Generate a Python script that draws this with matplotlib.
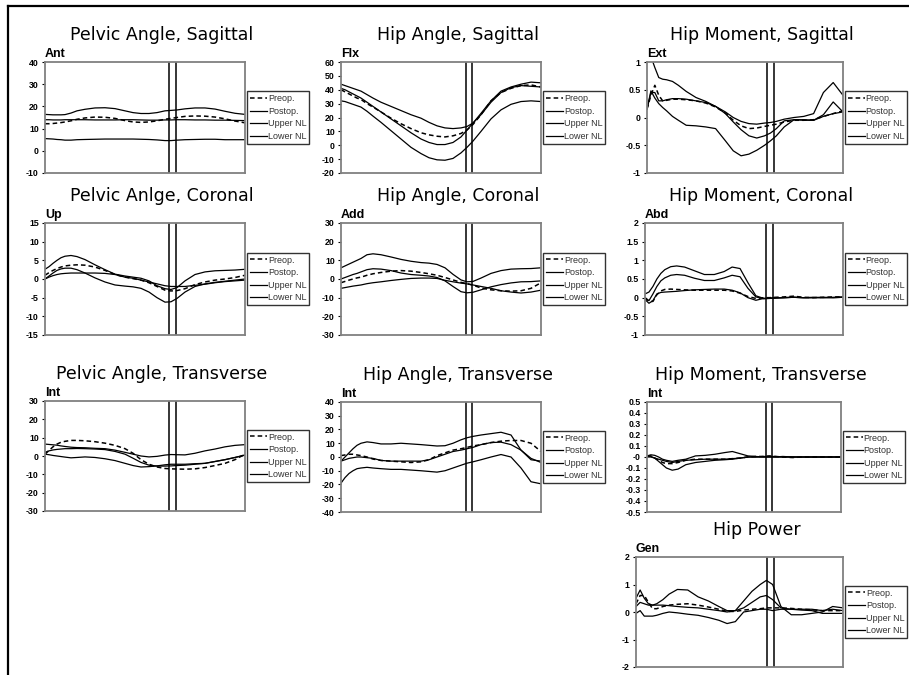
import matplotlib.pyplot as plt
import numpy as np
from matplotlib.lines import Line2D
from matplotlib.ticker import FuncFormatter

plt.rcParams['font.family'] = ['Liberation Sans', 'DejaVu Sans']

# % of gait cycle
gait = [0, 2, 4, 6, 8, 10, 13, 16, 20, 25, 30, 35, 40, 44, 48, 52, 56, 60, 63, 66, 70, 75, 80, 85, 90, 95, 100]

# Pelvic Angle, Sagittal
pel_sag_pre = [12.2, 12.2, 12.3, 12.5, 12.7, 13.0, 13.5, 14.2, 14.8, 15.2, 15.1, 14.6, 13.6, 13.0, 12.8, 13.0, 13.5, 14.2, 14.6, 15.0, 15.5, 15.7, 15.6, 15.2, 14.4, 13.4, 12.6]
pel_sag_post = [14.0, 14.0, 13.9, 13.9, 13.9, 14.0, 14.0, 14.0, 14.0, 13.9, 13.9, 13.9, 14.0, 14.0, 13.9, 13.8, 13.8, 13.9, 13.9, 14.0, 14.0, 13.9, 13.9, 13.8, 13.8, 13.7, 13.6]
pel_sag_up = [16.4, 16.3, 16.2, 16.2, 16.2, 16.3, 17.0, 18.0, 18.7, 19.3, 19.4, 19.0, 18.0, 17.2, 16.8, 16.8, 17.2, 18.0, 18.2, 18.4, 18.9, 19.3, 19.3, 18.8, 17.8, 16.9, 16.4]
pel_sag_lo = [5.5, 5.4, 5.3, 5.1, 5.0, 4.8, 4.8, 5.0, 5.1, 5.2, 5.3, 5.3, 5.3, 5.3, 5.2, 5.1, 4.9, 4.6, 4.6, 4.8, 5.0, 5.1, 5.2, 5.2, 5.0, 5.0, 5.0]

# Hip Angle, Sagittal
hip_sag_pre = [40, 38.5, 37, 35.5, 34, 33, 30, 27.5, 24, 19.5, 15.5, 12, 9, 7.5, 6.5, 6, 6.8, 8.5, 11, 15, 22, 32, 38, 41, 43, 43.5, 42]
hip_sag_post = [41, 40, 38.5, 37, 35.5, 34, 31, 28, 24, 19, 14, 9, 4.5, 2, 0.5, 0.5, 2, 6, 11, 16, 23, 32, 39, 42, 44, 45.5, 45]
hip_sag_up = [44, 43, 42, 41, 40, 39, 36.5, 34, 31, 28, 25, 22, 19.5, 16.5, 14, 12.5, 12, 12.5, 13.5, 16, 22, 31, 38, 41.5, 43, 42.5, 42]
hip_sag_lo = [32, 31.5, 30.5, 29.5, 28.5, 27.5, 24.5, 21, 16.5, 10.5, 4.5, -1.5, -6, -9, -10.5, -10.8, -9.5, -5.5, -1.5, 3, 10, 19, 25.5, 29.5, 31.5, 32, 31.5]

# Hip Moment, Sagittal
mom_sag_pre = [0.15, 0.4, 0.58, 0.4, 0.3, 0.31, 0.33, 0.33, 0.32, 0.3, 0.26, 0.19, 0.08, -0.05, -0.15, -0.2, -0.19, -0.16, -0.14, -0.12, -0.08, -0.05, -0.05, -0.04, 0.02, 0.07, 0.12]
mom_sag_post = [0.15, 0.45, 0.45, 0.3, 0.3, 0.32, 0.34, 0.34, 0.33, 0.3, 0.27, 0.2, 0.07, -0.08, -0.22, -0.33, -0.37, -0.33, -0.28, -0.2, -0.06, -0.04, -0.05, -0.05, 0.05, 0.28, 0.1]
mom_sag_up = [1.2, 1.1, 0.9, 0.72, 0.69, 0.68, 0.65, 0.58, 0.47, 0.36, 0.29, 0.2, 0.1, 0.0, -0.07, -0.11, -0.12, -0.1, -0.09, -0.07, -0.03, 0.0, 0.02, 0.07, 0.45, 0.63, 0.4]
mom_sag_lo = [0.15, 0.48, 0.35, 0.25, 0.18, 0.12, 0.02, -0.05, -0.14, -0.15, -0.17, -0.2, -0.42, -0.6, -0.69, -0.66, -0.59, -0.5, -0.42, -0.33, -0.17, -0.04, -0.04, -0.05, 0.02, 0.07, 0.1]

# Pelvic Anlge, Coronal
pel_cor_pre = [1.0, 1.7, 2.3, 2.8, 3.2, 3.5, 3.7, 3.8, 3.7, 3.2, 2.3, 1.2, 0.5, 0.1, -0.3, -1.0, -2.0, -3.0, -3.2, -3.1, -2.6, -1.5, -0.8, -0.3, 0.0, 0.4, 1.0]
pel_cor_post = [0.0, 0.8, 1.6, 2.3, 2.7, 2.9, 2.9, 2.5, 1.6, 0.3, -0.8, -1.6, -1.9, -2.1, -2.5, -3.5, -5.0, -6.2, -6.1, -5.2, -3.5, -2.0, -1.3, -0.9, -0.6, -0.3, 0.0]
pel_cor_up = [2.6, 3.3, 4.2, 5.0, 5.7, 6.1, 6.3, 6.0, 5.2, 3.8, 2.5, 1.3, 0.8, 0.5, 0.2, -0.5, -1.8, -2.6, -2.8, -2.3, -0.5, 1.2, 1.9, 2.2, 2.3, 2.4, 2.6]
pel_cor_lo = [0.0, 0.5, 0.9, 1.2, 1.4, 1.5, 1.6, 1.6, 1.6, 1.6, 1.5, 1.2, 0.5, 0.2, -0.3, -0.8, -1.3, -1.8, -2.0, -2.0, -2.0, -1.7, -1.4, -1.0, -0.7, -0.5, -0.3]

# Hip Angle, Coronal
hip_cor_pre = [-2, -1.3, -0.6, 0, 0.6, 1, 2, 2.8, 3.5, 4.2, 4.5, 4.2, 3.5, 2.8, 2, 0.8, -0.5, -1.8, -2.5, -3.3, -4.8, -5.8, -6.3, -6.5, -6.3, -5, -2]
hip_cor_post = [0, 0.8, 1.6, 2.4, 3.0, 3.8, 5, 5.5, 5.3, 4.5, 3.2, 2.4, 2.0, 1.6, 0.8, -1, -4, -6.8, -7.4, -7.1, -5.8, -4.2, -3, -2.1, -1.5, -1.4, -1]
hip_cor_up = [6, 7, 8, 9, 10, 11, 13, 13.5, 13, 11.8, 10.5, 9.5, 8.8, 8.5, 7.8, 6, 2.5, -0.5, -1.5, -1.3, 0.5, 3, 4.5, 5.3, 5.5, 5.6, 6]
hip_cor_lo = [-5, -4.6, -4.2, -3.8, -3.5, -3.2, -2.5, -2, -1.5, -0.8, -0.2, 0.3, 0.5, 0.5, 0.3, -0.7, -1.5, -2.2, -2.6, -3.2, -4, -5, -6.3, -7, -7.5, -7, -6]

# Hip Moment, Coronal
mom_cor_pre = [0, -0.1, -0.1, 0.08, 0.18, 0.22, 0.23, 0.22, 0.21, 0.2, 0.2, 0.2, 0.2, 0.18, 0.12, 0.03, -0.02, 0, 0, 0.01, 0.02, 0.04, 0.01, 0, 0.01, 0.02, 0.02]
mom_cor_post = [0.0, -0.08, 0.1, 0.3, 0.45, 0.53, 0.6, 0.62, 0.6, 0.52, 0.46, 0.46, 0.53, 0.6, 0.56, 0.25, 0.02, -0.03, -0.02, -0.01, 0, 0.01, 0, 0.01, 0, 0, 0.01]
mom_cor_up = [0.1, 0.15, 0.3, 0.5, 0.65, 0.75, 0.83, 0.85, 0.82, 0.72, 0.62, 0.62, 0.7, 0.82, 0.78, 0.4, 0.05, -0.02, -0.02, -0.01, 0, 0.01, 0, 0, 0.01, 0, 0.01]
mom_cor_lo = [-0.05, -0.15, -0.08, 0.1, 0.14, 0.15, 0.16, 0.17, 0.19, 0.21, 0.22, 0.23, 0.23, 0.2, 0.13, 0.0, -0.07, -0.02, -0.01, 0, 0, 0.01, 0, 0, 0, 0.01, 0.02]

# Pelvic Angle, Transverse
pel_tr_pre = [1, 3, 5, 6.5, 7.5, 8, 8.5, 8.5, 8.3, 7.8, 7.0, 5.8, 4.0, 1.5, -2.0, -4.5, -6.0, -6.8, -7.0, -7.1, -7.2, -7.0, -6.3, -5.2, -4.0, -2, 1]
pel_tr_post = [2, 2.8, 3.3, 3.6, 3.8, 4, 4, 4.1, 4, 3.8, 3.5, 2.5, 1, -1.2, -3.5, -5, -5.5, -5.5, -5.4, -5.2, -5, -4.5, -4, -3, -2, -0.8, 0.5]
pel_tr_up = [6.5, 6.3, 6.1, 5.9, 5.5, 5.2, 4.8, 4.6, 4.5, 4.2, 4.0, 3.2, 2.0, 1.0, 0.0, -0.5, -0.2, 0.5, 0.8, 0.7, 0.6, 1.5, 2.8, 3.8, 5.0, 5.8, 6.2]
pel_tr_lo = [1, 0.7, 0.3, 0, -0.3, -0.6, -1, -0.8, -0.5, -0.8, -1.5, -2.5, -4, -5.2, -6, -5.8, -5.4, -4.8, -4.5, -4.5, -4.5, -4.2, -4, -3, -2, -0.8, 0.5]

# Hip Angle, Transverse
hip_tr_pre = [1, 1.5, 2, 2, 1.5, 1, 0, -1.5, -2.5, -3, -3.5, -4, -3.5, -2, 1, 3, 5, 6, 7, 8, 9, 10.5, 11.5, 12, 12, 10, 4]
hip_tr_post = [-3, -2, -1, -0.5, 0, 0, -0.5, -1, -2.5, -3, -3, -3, -3, -2, 0, 2, 4, 5, 6, 7, 9, 10.5, 10.8, 9, 5, -1, -4]
hip_tr_up = [-3, 0, 3, 6, 8.5, 10, 11, 10.5, 9.5, 9.5, 10, 9.5, 9, 8.5, 8, 8.2, 10, 12.5, 14, 15, 16, 17, 18, 16, 5, -2, -3]
hip_tr_lo = [-19, -15, -12, -10, -8.5, -8, -7.5, -8, -8.5, -9, -9, -9.5, -10, -10.5, -11, -10, -8, -6, -4.5, -3.5, -2, 0, 1.8, 0, -8, -18, -19.5]

# Hip Moment, Transverse
mom_tr_pre = [0.01, 0.01, -0.01, -0.03, -0.05, -0.06, -0.06, -0.05, -0.03, -0.02, -0.02, -0.02, -0.02, -0.015, -0.01, 0, 0.005, 0.005, 0.01, 0.005, 0, -0.005, 0, 0, 0, 0, 0]
mom_tr_post = [0, 0, -0.01, -0.02, -0.03, -0.04, -0.05, -0.04, -0.03, -0.025, -0.02, -0.02, -0.02, -0.015, -0.01, 0, 0, 0.005, 0.005, 0.005, 0, 0, 0, 0, 0, 0, 0]
mom_tr_up = [0.01, 0.02, 0.015, 0, -0.02, -0.03, -0.04, -0.03, -0.02, 0.01, 0.015, 0.025, 0.04, 0.05, 0.03, 0.01, 0.005, 0, 0, 0, 0.005, 0, 0, 0, 0, 0, 0]
mom_tr_lo = [0.01, 0.005, -0.01, -0.04, -0.07, -0.1, -0.12, -0.11, -0.07, -0.05, -0.04, -0.03, -0.025, -0.02, -0.01, 0, 0, 0, 0, 0, 0, 0, 0, 0, 0, 0, 0]

# Hip Power
pow_pre = [0.3, 0.6, 0.6, 0.35, 0.12, 0.12, 0.2, 0.25, 0.28, 0.3, 0.25, 0.18, 0.1, 0.02, 0.02, 0.07, 0.1, 0.12, 0.15, 0.15, 0.15, 0.13, 0.1, 0.08, 0.05, 0.05, 0.05]
pow_post = [0.2, 0.35, 0.3, 0.25, 0.25, 0.25, 0.25, 0.23, 0.2, 0.17, 0.15, 0.1, 0.05, 0.0, 0.05, 0.15, 0.35, 0.55, 0.6, 0.45, 0.15, 0.1, 0.1, 0.1, 0.05, 0.1, 0.05]
pow_up = [0.5, 0.8, 0.5, 0.3, 0.25, 0.3, 0.45, 0.65, 0.82, 0.8, 0.55, 0.4, 0.2, 0.05, 0.05, 0.4, 0.75, 1.0, 1.15, 1.0, 0.2, -0.1, -0.1, -0.05, 0.0, 0.2, 0.15]
pow_lo = [-0.05, 0.05, -0.15, -0.15, -0.15, -0.12, -0.05, 0.0, -0.03, -0.08, -0.12, -0.2, -0.3, -0.42, -0.35, 0.0, 0.05, 0.1, 0.1, 0.05, 0.1, 0.1, 0.07, 0.05, -0.05, -0.05, -0.05]

# toe-off (% gait), preop / postop
toe_pelvis = [62.2, 65.3]
toe_hip = [62.5, 65.7]
toe_moment = [61.2, 64.6]
toe_power = [63.3, 66.5]

W, H = 909, 675
fig = plt.figure(figsize=(W / 100, H / 100), dpi=100)

# outer frame (top and left edges only, rest is cut off)
fig.add_artist(Line2D([8 / W, 8 / W], [0, 1 - 6 / H], color='black', lw=1.6))
fig.add_artist(Line2D([8 / W, 1], [1 - 6 / H, 1 - 6 / H], color='black', lw=1.6))

# title, unit, ylim, step, toe-off, pre, post, upper, lower, box px (left, top, right, bottom)
panels = [
    ('Pelvic Angle, Sagittal', 'Ant', (-10, 40), 10, toe_pelvis,
     pel_sag_pre, pel_sag_post, pel_sag_up, pel_sag_lo, (45, 62, 245, 173)),
    ('Hip Angle, Sagittal', 'Flx', (-20, 60), 10, toe_hip,
     hip_sag_pre, hip_sag_post, hip_sag_up, hip_sag_lo, (341, 62, 541, 173)),
    ('Hip Moment, Sagittal', 'Ext', (-1, 1), 0.5, toe_moment,
     mom_sag_pre, mom_sag_post, mom_sag_up, mom_sag_lo, (647, 62, 843, 173)),
    ('Pelvic Anlge, Coronal', 'Up', (-15, 15), 5, toe_pelvis,
     pel_cor_pre, pel_cor_post, pel_cor_up, pel_cor_lo, (45, 223, 245, 335)),
    ('Hip Angle, Coronal', 'Add', (-30, 30), 10, toe_hip,
     hip_cor_pre, hip_cor_post, hip_cor_up, hip_cor_lo, (341, 223, 541, 335)),
    ('Hip Moment, Coronal', 'Abd', (-1, 2), 0.5, toe_moment,
     mom_cor_pre, mom_cor_post, mom_cor_up, mom_cor_lo, (645, 223, 843, 335)),
    ('Pelvic Angle, Transverse', 'Int', (-30, 30), 10, toe_pelvis,
     pel_tr_pre, pel_tr_post, pel_tr_up, pel_tr_lo, (45, 401, 245, 511)),
    ('Hip Angle, Transverse', 'Int', (-40, 40), 10, toe_hip,
     hip_tr_pre, hip_tr_post, hip_tr_up, hip_tr_lo, (341, 402, 541, 512)),
    ('Hip Moment, Transverse', 'Int', (-0.5, 0.5), 0.1, toe_moment,
     mom_tr_pre, mom_tr_post, mom_tr_up, mom_tr_lo, (647, 402, 841, 512)),
    ('Hip Power', 'Gen', (-2, 2), 1, toe_power,
     pow_pre, pow_post, pow_up, pow_lo, (636, 557, 843, 667)),
]

for title, unit, ylim, step, toe, pre, post, up, lo, box in panels:
    l, t, r, b = box
    ax = fig.add_axes([l / W, 1 - b / H, (r - l) / W, (b - t) / H])

    ax.plot(gait, pre, color='black', lw=1.1, ls=(0, (3, 2)), label='Preop.')
    ax.plot(gait, post, color='black', lw=0.9, label='Postop.')
    ax.plot(gait, up, color='black', lw=0.9, label='Upper NL')
    ax.plot(gait, lo, color='black', lw=0.9, label='Lower NL')
    for x in toe:
        ax.axvline(x, color='black', lw=1.1)

    ax.set_xlim(0, 100)
    ax.set_ylim(*ylim)
    ax.set_xticks([])
    ax.set_yticks(np.arange(ylim[0], ylim[1] + step / 2, step))
    ax.yaxis.set_major_formatter(FuncFormatter(lambda v, p: '{:g}'.format(round(v, 2))))
    ax.tick_params(axis='y', length=2.5, width=0.8, pad=2, labelsize=6.3)
    for lab in ax.get_yticklabels():
        lab.set_fontweight('bold')
    for sp in ax.spines.values():
        sp.set_color('#808080')
        sp.set_linewidth(1.3)

    leg = ax.legend(loc='center left', bbox_to_anchor=(1.01, 0.5), fontsize=6.5,
                    frameon=True, fancybox=False, handlelength=1.9, handletextpad=0.1,
                    labelspacing=0.4, borderpad=0.3, borderaxespad=0)
    leg.get_frame().set_edgecolor('black')
    leg.get_frame().set_linewidth(1.0)
    for txt in leg.get_texts():
        txt.set_color('#333333')

    fig.text((l + r) / 2 / W + 17 / W, 1 - (t - 22) / H, title, ha='center', va='baseline',
             fontsize=12.5, family='DejaVu Sans')
    fig.text(l / W, 1 - (t - 5) / H, unit, ha='left', va='baseline', fontsize=9,
             fontweight='bold', family='Liberation Sans')

fig.savefig('out.png', dpi=100)
